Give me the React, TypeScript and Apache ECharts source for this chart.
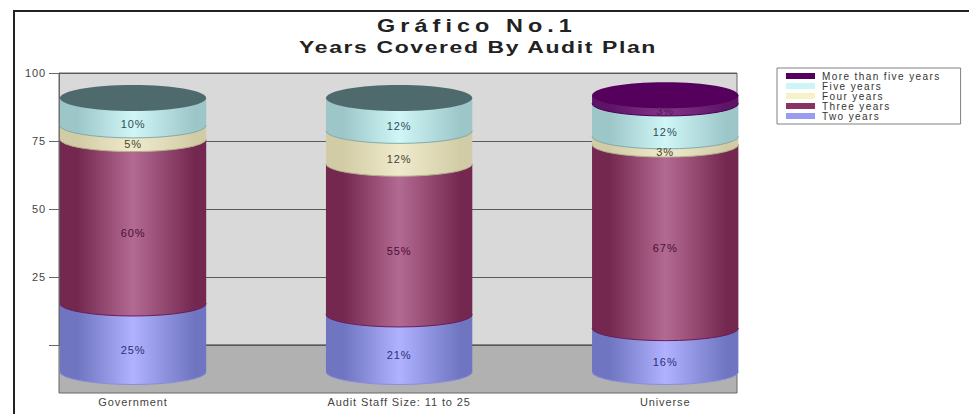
import React, { useEffect, useRef } from "react";
import * as echarts from "echarts";

const chartTitle = "Gráfico No.1";
const chartSubtitle = "Years Covered By Audit Plan";
const categories = ["Government", "Audit Staff Size: 11 to 25", "Universe"];
const seriesNames = ["Two years", "Three years", "Four years", "Five years", "More than five years"];
const twoYears = [25, 21, 16];
const threeYears = [60, 55, 67];
const fourYears = [5, 12, 3];
const fiveYears = [10, 12, 12];
const moreThanFive = [0, 0, 3];
const allValues = [twoYears, threeYears, fourYears, fiveYears, moreThanFive];
const yTicks = [0, 25, 50, 75, 100];

// Shading for each stack: legend swatch, cylinder edge, cylinder highlight, cap, seam, label
const shades = [
  { swatch: "#9a9cf0", edge: "#6f75c0", mid: "#b0b2ff", cap: "#6c72bd", seam: "#8a8ed8", label: "#2c2f78" },
  { swatch: "#8a3362", edge: "#74284f", mid: "#b36a92", cap: "#5c1c42", seam: "#6a1c5c", label: "#4a0f35" },
  { swatch: "#f7f2c6", edge: "#d2cca6", mid: "#efeacb", cap: "#a8a27e", seam: "#b5b08c", label: "#444433" },
  { swatch: "#ccf6f6", edge: "#9cc6c8", mid: "#d0f6f7", cap: "#4f6a6c", seam: "#86aaaa", label: "#2f4d58" },
  { swatch: "#54005c", edge: "#5e1466", mid: "#84348a", cap: "#55005c", seam: "#4a0050", label: "#4a1f52" },
];

const BAR_WIDTH_RATIO = 0.55;
const ELLIPSE_RY = 12.5;
const LABEL_DROP = 12;

const stackTotal = (cat: number) => allValues.reduce((sum, s) => sum + s[cat], 0);

// Draws one stacked cylinder segment through the front-plane axes.
function cylinderRenderer(seriesIdx: number) {
  const shade = shades[seriesIdx];
  return (_params: any, api: any) => {
    const cat = api.value(0);
    const from = api.value(1);
    const to = api.value(2);
    if (to <= from) return null;
    const [cx, yBottom] = api.coord([cat, from]);
    const [, yTop] = api.coord([cat, to]);
    const rx = (api.size([1, 0])[0] * BAR_WIDTH_RATIO) / 2;
    const ry = ELLIPSE_RY;
    const left = cx - rx;
    const right = cx + rx;
    const fill = new echarts.graphic.LinearGradient(0, 0, 1, 0, [
      { offset: 0, color: shade.edge },
      { offset: 0.12, color: shade.edge },
      { offset: 0.5, color: shade.mid },
      { offset: 0.92, color: shade.edge },
      { offset: 1, color: shade.edge },
    ]);
    const arc = `M${left} ${yBottom} A${rx} ${ry} 0 0 0 ${right} ${yBottom}`;
    const children: any[] = [
      {
        type: "path",
        shape: {
          pathData: `M${left} ${yTop} L${left} ${yBottom} A${rx} ${ry} 0 0 0 ${right} ${yBottom} L${right} ${yTop} Z`,
        },
        style: { fill },
      },
      {
        type: "path",
        shape: { pathData: arc },
        style: { fill: "none", stroke: shade.seam, lineWidth: 1 },
      },
    ];
    if (to >= stackTotal(cat)) {
      children.push({
        type: "ellipse",
        shape: { cx, cy: yTop, rx, ry: ry + 0.5 },
        style: { fill: shade.cap },
      });
    }
    children.push({
      type: "text",
      z2: 20,
      style: {
        text: `${to - from}%`,
        x: cx,
        y: (yTop + yBottom) / 2 + LABEL_DROP,
        align: "center",
        verticalAlign: "middle",
        fill: shade.label,
        font: "11px 'Liberation Sans'",
      },
    });
    return { type: "group", children };
  };
}

function buildSeries() {
  return seriesNames.map((name, idx) => ({
    name,
    type: "custom",
    coordinateSystem: "cartesian2d",
    xAxisIndex: 1,
    yAxisIndex: 1,
    itemStyle: { color: shades[idx].swatch },
    encode: { x: 0, y: [1, 2] },
    renderItem: cylinderRenderer(idx),
    data: categories.map((_, cat) => {
      const from = allValues.slice(0, idx).reduce((sum, s) => sum + s[cat], 0);
      return [cat, from, from + allValues[idx][cat]];
    }),
  }));
}

const font = "'Liberation Sans', Arial, sans-serif";

export default function App() {
  const ref = useRef<HTMLDivElement>(null);

  useEffect(() => {
    const el = ref.current!;
    const chart = echarts.init(el, undefined, { renderer: "svg" });
    chart.setOption({
      animation: false,
      backgroundColor: "#ffffff",
      legend: {
        left: 777,
        top: 68,
        orient: "vertical",
        icon: "rect",
        itemWidth: 29,
        itemHeight: 6,
        itemGap: 0,
        padding: [3, 48, 3, 9],
        backgroundColor: "#ffffff",
        borderColor: "#808080",
        borderWidth: 1,
        selectedMode: false,
        data: [...seriesNames].reverse(),
        textStyle: { fontFamily: font, fontSize: 10, color: "#333333", padding: [0, 0, 0, 2] },
      },
      // Back wall carries the value scale; the front grid carries the cylinders.
      grid: [
        { left: 59, top: 73, width: 678, height: 272, show: true, backgroundColor: "#d9d9d9", borderColor: "#666666", borderWidth: 1 },
        { left: -1.25, top: 98, width: 799.5, height: 274 },
      ],
      xAxis: [
        { gridIndex: 0, type: "category", show: false, data: categories },
        {
          gridIndex: 1,
          type: "category",
          data: categories,
          offset: 21,
          axisLine: { show: false },
          axisTick: { show: true, alignWithLabel: true, length: 3, lineStyle: { color: "#555555" } },
          axisLabel: { margin: 3, fontFamily: font, fontSize: 11, color: "#444444" },
        },
      ],
      yAxis: [
        {
          gridIndex: 0,
          type: "value",
          min: 0,
          max: 100,
          interval: 25,
          axisLine: { show: true, lineStyle: { color: "#666666" } },
          axisTick: { show: true, length: 10, lineStyle: { color: "#666666" } },
          axisLabel: {
            margin: 13,
            fontFamily: font,
            fontSize: 11,
            color: "#444444",
            formatter: (v: number) => (v === yTicks[0] ? "" : String(v)),
          },
          splitLine: { show: true, lineStyle: { color: "#5a5a5a", width: 1 } },
        },
        { gridIndex: 1, type: "value", min: 0, max: 100, show: false },
      ],
      graphic: [
        { type: "line", shape: { x1: 13, y1: 11, x2: 969, y2: 11 }, style: { stroke: "#222222", lineWidth: 2 } },
        { type: "line", shape: { x1: 14, y1: 11, x2: 14, y2: 414 }, style: { stroke: "#222222", lineWidth: 2 } },
        {
          type: "rect",
          shape: { x: 59, y: 345, width: 678, height: 48 },
          style: { fill: "#b1b1b1", stroke: "#666666", lineWidth: 1 },
        },
        // Headings are set wide, so they are stretched horizontally as well as tracked.
        {
          type: "text",
          x: 477,
          y: 26,
          scaleX: 1.3,
          style: {
            text: chartTitle,
            x: 0,
            y: 0,
            align: "center",
            verticalAlign: "middle",
            fill: "#222222",
            font: `bold 18px ${font}`,
          },
        },
        {
          type: "text",
          x: 478,
          y: 47,
          scaleX: 1.35,
          style: {
            text: chartSubtitle,
            x: 0,
            y: 0,
            align: "center",
            verticalAlign: "middle",
            fill: "#222222",
            font: `bold 17px ${font}`,
          },
        },
      ],
      series: buildSeries(),
    });

    // Tracking for the two headings and the smaller legend entries.
    el.querySelectorAll("text").forEach((t) => {
      if (t.textContent === chartTitle) t.style.letterSpacing = "3.9px";
      if (t.textContent === chartSubtitle) t.style.letterSpacing = "1.2px";
      if (seriesNames.includes(t.textContent ?? "")) t.style.letterSpacing = "1.4px";
    });

    return () => chart.dispose();
  }, []);

  return (
    <div
      ref={ref}
      style={{ position: "absolute", left: 0, top: 0, width: 969, height: 416, letterSpacing: "0.9px" }}
    />
  );
}
